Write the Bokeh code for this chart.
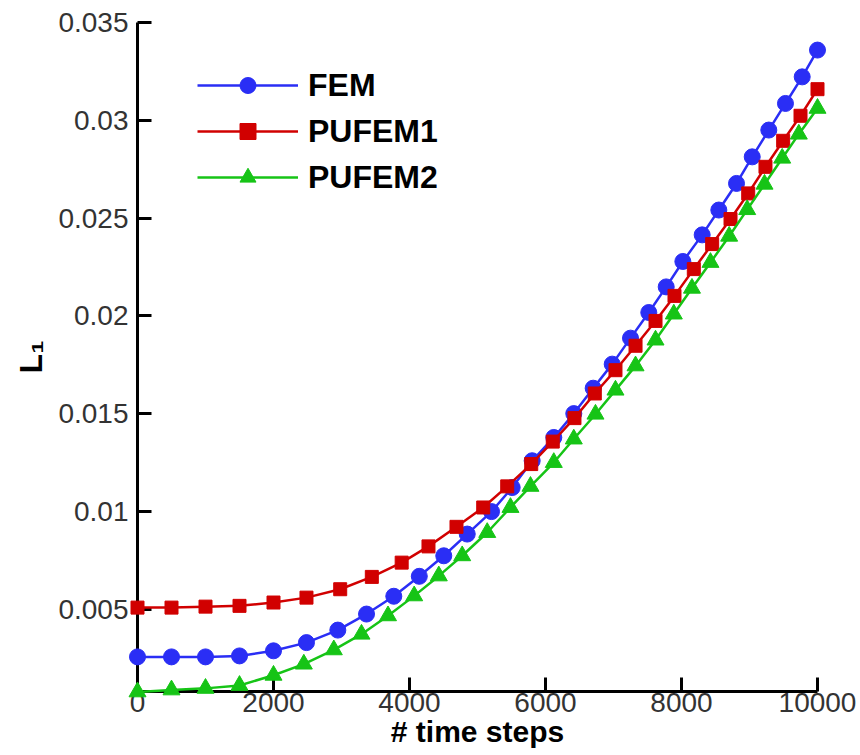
from bokeh.plotting import figure
from bokeh.models import (Range1d, FixedTicker, CustomJSTickFormatter,
                          BasicTickFormatter, Legend, LegendItem)
from bokeh.embed import file_html
from bokeh.resources import INLINE

# ---- data ----
fem_x = [0, 500, 1000, 1500, 2000, 2485, 2946, 3368, 3769, 4144, 4504, 4849,
         5206, 5510, 5804, 6122, 6416, 6701, 6981, 7250, 7519, 7775, 8020,
         8304, 8549, 8809, 9040, 9284, 9529, 9775, 10000]
fem_y = [0.00256, 0.00256, 0.00256, 0.00261, 0.00287, 0.00329, 0.00393,
         0.00475, 0.00566, 0.00668, 0.00773, 0.00884, 0.00999, 0.01122,
         0.01259, 0.01378, 0.01500, 0.01630, 0.01753, 0.01886, 0.02017,
         0.02148, 0.02278, 0.02414, 0.02541, 0.02677, 0.02813, 0.02950,
         0.03086, 0.03222, 0.03359]

pufem1_x = [0, 500, 1000, 1500, 2000, 2485, 2981, 3446, 3885, 4279, 4691,
            5084, 5437, 5790, 6107, 6426, 6725, 7029, 7324, 7618, 7897, 8181,
            8451, 8721, 8981, 9235, 9495, 9750, 10000]
pufem1_y = [0.00508, 0.00508, 0.00513, 0.00517, 0.00534, 0.00559, 0.00602,
            0.00665, 0.00738, 0.00821, 0.00921, 0.01020, 0.01128, 0.01242,
            0.01357, 0.01477, 0.01603, 0.01722, 0.01847, 0.01974, 0.02102,
            0.02239, 0.02367, 0.02495, 0.02626, 0.02762, 0.02895, 0.03023,
            0.03159]

pufem2_x = [0, 500, 1000, 1500, 2000, 2446, 2887, 3294, 3684, 4069, 4431,
            4775, 5143, 5485, 5779, 6122, 6416, 6735, 7029, 7324, 7618, 7887,
            8154, 8426, 8701, 8966, 9221, 9481, 9725, 10000]
pufem2_y = [0.00077, 0.00087, 0.00095, 0.00110, 0.00162, 0.00219, 0.00292,
            0.00372, 0.00466, 0.00568, 0.00670, 0.00773, 0.00892, 0.01020,
            0.01128, 0.01250, 0.01370, 0.01497, 0.01620, 0.01744, 0.01876,
            0.02009, 0.02141, 0.02273, 0.02407, 0.02543, 0.02673, 0.02806,
            0.02929, 0.03061]

x_ticks = [0, 2000, 4000, 6000, 8000, 10000]
y_ticks = [0.005, 0.01, 0.015, 0.02, 0.025, 0.03, 0.035]

series_names = ["FEM", "PUFEM1", "PUFEM2"]
x_title = "# time steps"
y_title = "L\u2081"

X_MIN, X_MAX = 0, 10000
Y_MIN, Y_MAX = 0.00079, 0.035

# ---- figure ----
p = figure(width=860, height=755, output_backend="svg", toolbar_location=None,
           x_range=Range1d(X_MIN, X_MAX), y_range=Range1d(Y_MIN, Y_MAX),
           min_border_left=137, min_border_right=43, min_border_top=22,
           min_border_bottom=64)
p.outline_line_color = None
p.grid.visible = False
p.background_fill_color = "white"
p.border_fill_color = "white"

font = "Liberation Sans"

for ax in (p.xaxis[0], p.yaxis[0]):
    ax.axis_line_width = 3
    ax.axis_line_color = "black"
    ax.major_tick_line_width = 3
    ax.major_tick_line_color = "black"
    ax.major_tick_in = 14
    ax.major_tick_out = 0
    ax.minor_tick_in = 0
    ax.minor_tick_out = 0
    ax.major_label_text_font = font
    ax.major_label_text_font_size = "28px"
    ax.major_label_text_color = "#333333"
    ax.axis_label_text_font = font
    ax.axis_label_text_font_style = "bold"
    ax.axis_label_text_color = "black"

p.xaxis[0].ticker = FixedTicker(ticks=x_ticks)
p.xaxis[0].formatter = BasicTickFormatter(use_scientific=False)
p.xaxis[0].major_label_standoff = 1
p.xaxis[0].axis_label = x_title
p.xaxis[0].axis_label_text_font_size = "30px"
p.xaxis[0].axis_label_standoff = 0

p.yaxis[0].ticker = FixedTicker(ticks=y_ticks)
p.yaxis[0].formatter = CustomJSTickFormatter(
    code="return tick.toFixed(3).replace(/\\.?0+$/, '')")
p.yaxis[0].major_label_standoff = 9
p.yaxis[0].axis_label = y_title
p.yaxis[0].axis_label_text_font_size = "32px"
p.yaxis[0].axis_label_standoff = 6

blue = "#2a2ef5"
red = "#d10000"
green = "#16c416"

l1 = p.line(fem_x, fem_y, line_color=blue, line_width=2.5, level="overlay")
s1 = p.scatter(fem_x, fem_y, marker="circle", size=16, fill_color=blue,
               line_color=blue, level="overlay")
l2 = p.line(pufem1_x, pufem1_y, line_color=red, line_width=2.5,
            level="overlay")
s2 = p.scatter(pufem1_x, pufem1_y, marker="square", size=13, fill_color=red,
               line_color=red, level="overlay")
l3 = p.line(pufem2_x, pufem2_y, line_color=green, line_width=2.5,
            level="overlay")
s3 = p.scatter(pufem2_x, pufem2_y, marker="triangle", size=17,
               fill_color=green, line_color=green, level="overlay")

legend = Legend(items=[
    LegendItem(label=series_names[0], renderers=[l1, s1]),
    LegendItem(label=series_names[1], renderers=[l2, s2]),
    LegendItem(label=series_names[2], renderers=[l3, s3]),
], location=(60, 494))
legend.border_line_color = None
legend.background_fill_alpha = 0
legend.padding = 0
legend.margin = 0
legend.spacing = 6
legend.glyph_height = 40
legend.glyph_width = 101
legend.label_standoff = 10
legend.label_text_font = font
legend.label_text_font_size = "32px"
legend.label_text_font_style = "bold"
legend.label_text_color = "black"
legend.label_text_baseline = "middle"
p.add_layout(legend, "center")

open("out.html", "w").write(file_html(p, INLINE))
